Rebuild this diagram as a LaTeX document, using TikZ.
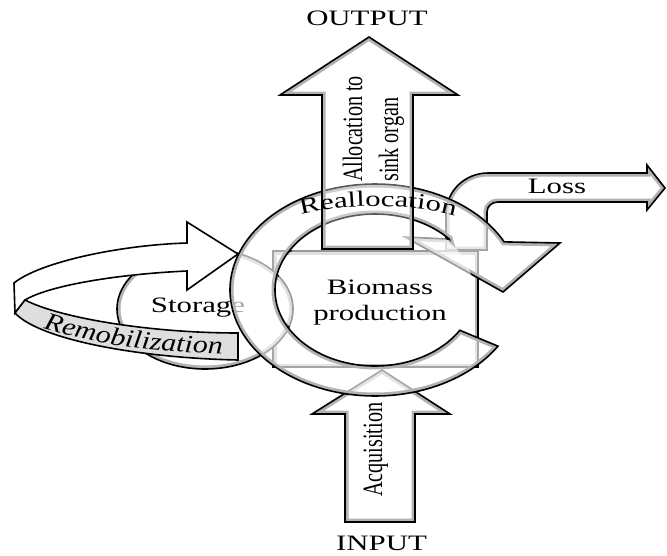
\documentclass[tikz,border=0pt]{standalone}
\usepackage{fontspec}
\setmainfont{Liberation Serif}
\newfontfamily\hfont{Liberation Serif}[FakeStretch=1.4]
\newfontfamily\vfont{Liberation Serif}[FakeStretch=0.72]
\newfontfamily\rfont{Liberation Serif}[FakeStretch=1.2]
\usetikzlibrary{decorations.text}
\tikzset{
  outl/.style={draw=black, line width=1.6pt, line join=miter},
  innershade/.style={draw=black!30, line width=7pt},
  htext/.style={font=\hfont\fontsize{22}{26}\selectfont, inner sep=0pt, anchor=base},
  vtext/.style={font=\vfont\fontsize{28}{32}\selectfont, inner sep=0pt, rotate=90, anchor=base west},
}
\begin{document}
\begin{tikzpicture}[x=1pt,y=-1pt]
\useasboundingbox (0,0) rectangle (667,555);
\def\outarrow{(322,249) -- (322,95) -- (280,95) -- (369,37) -- (458,95) -- (413,95) -- (413,249) -- cycle}
\def\inarrow{(345,522) -- (345,414) -- (312,414) -- (382,370) -- (450,414) -- (415,414) -- (415,522) -- cycle}
\def\lossarrow{(446,250) -- (446,214) .. controls (446,191) and (465,173) .. (488,173) -- (647,173) -- (647,165) -- (665,188) -- (647,210) -- (647,202) -- (498,202) .. controls (492,202) and (487,206) .. (487,212) -- (487,250) -- cycle}
\def\ringpath{plot[domain=32:333,samples=120] ({375+145*cos(\x)},{290+106*sin(\x)}) -- (560,243) -- (503,292) -- (405,237) -- (449.3,239.1) -- plot[domain=318:32,samples=120] ({375+100*cos(\x)},{290+76*sin(\x)}) -- cycle}
\def\boxpath{(273,251) rectangle (478,367)}
\def\storpath{(205,309) ellipse [x radius=88, y radius=60]}
\def\remback{(14,283) .. controls (40,262) and (120,245) .. (187,243) -- (187,222) -- (238,254) -- (187,290) -- (187,271) .. controls (120,274) and (50,285) .. (25,300) -- (15,313) -- cycle}
\def\remfront{(25,300) .. controls (60,318) and (150,333) .. (238,333) -- (238,360) .. controls (140,358) and (40,340) .. (15,313) -- cycle}

% biomass box
\begin{scope}\clip \boxpath; \draw[innershade] \boxpath; \end{scope}
\draw[outl] \boxpath;

% input arrow
\fill[white] \inarrow;
\begin{scope}\clip \inarrow; \draw[innershade] \inarrow; \end{scope}
\draw[outl] \inarrow;

% loss arrow
\fill[white] \lossarrow;
\begin{scope}\clip \lossarrow; \draw[innershade] \lossarrow; \end{scope}
\draw[outl] \lossarrow;

% storage
\fill[white] \storpath;
\begin{scope}\clip \storpath; \draw[innershade] \storpath; \end{scope}
\draw[outl] \storpath;
\node[htext] (storage) at (198,312) {Storage};

% remobilization ribbon
\draw[outl, fill=white] \remback;
\draw[outl, fill=black!13] \remfront;
\path[decorate, decoration={text along path, text align=center,
  text={|\rfont\itshape\fontsize{25}{30}\selectfont|Remobilization}}]
  (36,326) .. controls (95,345) and (150,352) .. (230,354);

% reallocation ring
\fill[white, fill opacity=0.65] \ringpath;
\begin{scope}\clip \ringpath; \draw[innershade] \ringpath; \end{scope}
\draw[outl] \ringpath;
\fill[white, fill opacity=0.6] (375,290) ellipse [x radius=98, y radius=74];

% output arrow
\fill[white, fill opacity=0.35] \outarrow;
\begin{scope}\clip \outarrow; \draw[innershade] \outarrow; \end{scope}
\draw[outl] \outarrow;

% texts
\path[decorate, decoration={text along path, text align=center,
  text={|\hfont\fontsize{22}{26}\selectfont|Reallocation}}]
  (298,216) .. controls (345,203) and (410,203) .. (458,217);
\node[htext] (bio1) at (380,294) {Biomass};
\node[htext] (bio2) at (380,320) {production};
\node[vtext] (alloc1) at (362,182) {Allocation to};
\node[vtext] (alloc2) at (398,182) {sink organ};
\node[vtext] (acq) at (382,497) {Acquisition};
\node[htext] (output) at (367,25) {OUTPUT};
\node[htext] (input) at (381.5,550) {INPUT};
\node[htext] (loss) at (557,193) {Loss};
\end{tikzpicture}
\end{document}
